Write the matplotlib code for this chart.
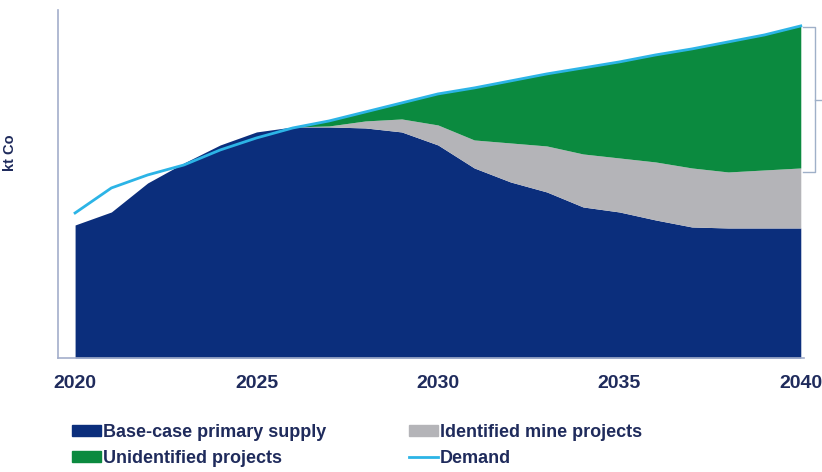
import numpy as np
import matplotlib
matplotlib.use('Agg')
import matplotlib.pyplot as plt
from matplotlib.patches import Patch
from matplotlib.lines import Line2D

plt.rcParams['font.family'] = ['Liberation Sans', 'DejaVu Sans']

years = list(range(2020, 2041))
# (arbitrary kt Co units)
base_case = [133, 146, 175, 195, 213, 226, 231, 231, 230, 226, 213, 190, 176, 166, 151, 146, 138, 131, 130, 130, 130]
identified = [0, 0, 0, 0, 0, 0, 0, 1, 7, 13, 20, 28, 39, 46, 53, 54, 58, 59, 56, 58, 60]
unidentified = [0, 0, 0, 0, 0, 0, 0, 5, 9, 16, 31, 52, 62, 72, 86, 96, 107, 119, 130, 135, 142]
demand = [145, 170, 183, 193, 208, 220, 230, 237, 246, 255, 264, 270, 277, 284, 290, 296, 303, 309, 316, 323, 332]

navy = '#0b2e7c'
grey = '#b4b4b8'
green = '#0b8a3f'
light_blue = '#2cb4e6'
text_col = '#1f2b5c'

yrs = np.array(years)
base = np.array(base_case)
supply = base + np.array(identified)
top = supply + np.array(unidentified)

fig = plt.figure(figsize=(8.22, 4.72), dpi=100)
ax = fig.add_axes([0.0706, 0.2415, 0.908, 0.7375])

ax.fill_between(yrs, 0, base, color=navy, lw=0)
ax.fill_between(yrs, base, supply, color=grey, lw=0)
ax.fill_between(yrs, supply, top, color=green, lw=0)
ax.plot(yrs, demand, color=light_blue, lw=2)

ax.set_xlim(2019.53, 2040.1)
ax.set_ylim(0, 348)
ax.set_xticks([2020, 2025, 2030, 2035, 2040])
ax.set_yticks([])
ax.tick_params(axis='x', length=0, pad=12, labelsize=14, labelcolor=text_col)
for lbl in ax.get_xticklabels():
    lbl.set_fontweight('bold')
for s in ['top', 'right']:
    ax.spines[s].set_visible(False)
for s in ['left', 'bottom']:
    ax.spines[s].set_color('#a3aecb')
    ax.spines[s].set_linewidth(1.2)

ax.set_ylabel('kt Co', fontsize=10.5, fontweight='bold', color=text_col)
ax.yaxis.set_label_coords(-0.055, 0.59)

# bracket on the right side
bx = 2040.38
ax.plot([2040.05, bx, bx, 2040.05], [331, 331, 186, 186], color='#9fb0c8', lw=1, clip_on=False)
ax.plot([bx, 2040.6], [258, 258], color='#9fb0c8', lw=1, clip_on=False)

handles = [Patch(color=navy), Patch(color=green), Patch(color=grey),
           Line2D([0], [0], color=light_blue, lw=2)]
labels = ['Base-case primary supply', 'Unidentified projects',
          'Identified mine projects', 'Demand']
leg = fig.legend(handles, labels, ncol=2, loc='upper left', bbox_to_anchor=(0.0876, 0.102),
                 frameon=False, fontsize=13, handlelength=1.6, handleheight=0.55,
                 handletextpad=0.1, columnspacing=4.6, labelspacing=0.5,
                 borderaxespad=0, borderpad=0)
for t in leg.get_texts():
    t.set_color(text_col)
    t.set_fontweight('bold')

fig.savefig('out.png', dpi=100)
